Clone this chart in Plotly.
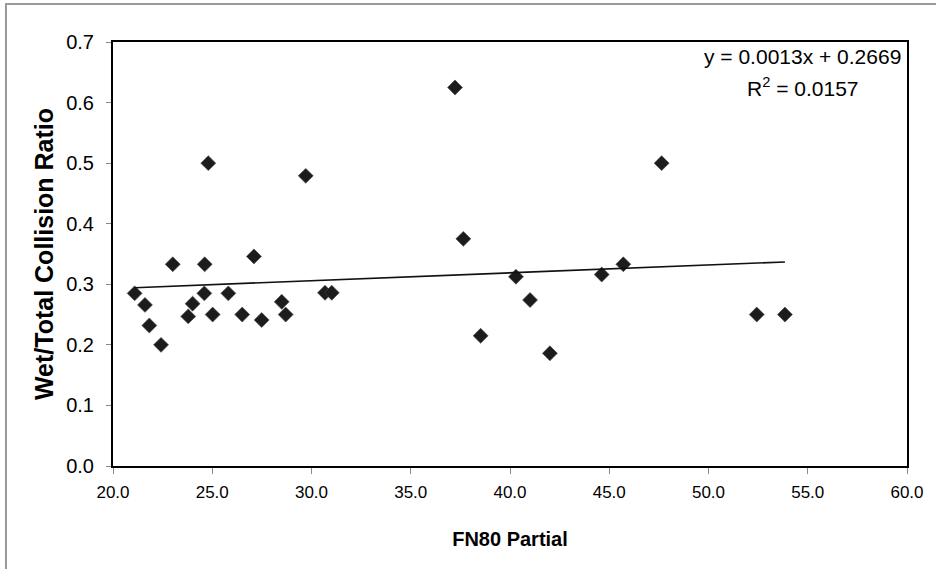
import plotly.graph_objects as go

# Data
fn80_partial = [21.09, 21.61, 21.83, 22.42, 23.01, 23.79, 24.01, 24.60, 24.62, 24.80,
                25.02, 25.81, 26.51, 27.10, 27.49, 28.50, 28.70, 29.71, 30.68, 31.02,
                37.23, 37.65, 38.52, 40.30, 41.01, 42.01, 44.62, 45.71, 47.64, 52.43, 53.85]
wet_total_ratio = [0.285, 0.266, 0.232, 0.200, 0.333, 0.247, 0.268, 0.285, 0.333, 0.500,
                   0.250, 0.285, 0.250, 0.346, 0.241, 0.271, 0.250, 0.479, 0.286, 0.286,
                   0.625, 0.375, 0.215, 0.3125, 0.274, 0.186, 0.316, 0.333, 0.500, 0.250, 0.250]

# Linear trendline from the chart's equation
slope = 0.0013
intercept = 0.2669
r_squared = 0.0157

x_ticks = [20, 25, 30, 35, 40, 45, 50, 55, 60]
y_ticks = [0.0, 0.1, 0.2, 0.3, 0.4, 0.5, 0.6, 0.7]

trend_x = [min(fn80_partial), max(fn80_partial)]
trend_y = [slope * v + intercept for v in trend_x]

FONT = "Liberation Sans, Arial, sans-serif"

fig = go.Figure()
fig.add_trace(go.Scatter(
    x=fn80_partial, y=wet_total_ratio, mode="markers",
    marker=dict(symbol="diamond", size=11.5, color="#1c1c1c",
                line=dict(width=0.6, color="#444")),
    showlegend=False, hoverinfo="x+y"))
fig.add_trace(go.Scatter(
    x=trend_x, y=trend_y, mode="lines",
    line=dict(color="#111", width=1.6),
    showlegend=False, hoverinfo="skip"))

# trendline equation and R²
fig.add_annotation(
    x=1.0, y=1.0, xref="paper", yref="paper", xanchor="right", yanchor="top",
    xshift=-4, yshift=-1, showarrow=False,
    text=f"y = {slope:.4f}x + {intercept:.4f}",
    font=dict(family=FONT, size=21, color="black"))
fig.add_annotation(
    x=0.869, y=0.893, xref="paper", yref="paper", xanchor="center", yanchor="middle",
    showarrow=False,
    text=f"R<sup>2</sup> = {r_squared:.4f}",
    font=dict(family=FONT, size=21, color="black"))

# outer chart-area border (top and left visible in reference)
fig.add_shape(type="rect", xref="paper", yref="paper",
              x0=-0.1348, x1=1.2, y0=-0.4, y1=1.0896,
              line=dict(color="#9a9a9a", width=2), layer="below")

fig.update_layout(
    width=936, height=569,
    margin=dict(l=113, r=29, t=42, b=103),
    paper_bgcolor="white", plot_bgcolor="white",
    font=dict(family=FONT, size=16, color="black"),
)
fig.update_xaxes(
    range=[20, 60], tickvals=x_ticks, ticktext=[f"{v:.1f}" for v in x_ticks],
    showgrid=False, zeroline=False,
    showline=True, linewidth=2, linecolor="black", mirror=True,
    ticks="outside", ticklen=6, tickwidth=1, tickcolor="#888",
    ticklabelstandoff=4,
    tickfont=dict(family=FONT, size=17),
    title=dict(text="<b>FN80 Partial</b>", font=dict(family=FONT, size=20), standoff=31))
fig.update_yaxes(
    range=[0, 0.7], tickvals=y_ticks, ticktext=[f"{v:.1f}" for v in y_ticks],
    showgrid=False, zeroline=False,
    showline=True, linewidth=2, linecolor="black", mirror=True,
    ticks="outside", ticklen=5, tickwidth=1, tickcolor="#888",
    ticklabelstandoff=8,
    tickfont=dict(family=FONT, size=20),
    title=dict(text="<b>Wet/Total Collision Ratio</b>", font=dict(family=FONT, size=25), standoff=5))

fig.write_html("out.html", config={"displayModeBar": False},
               post_script="document.body.style.margin='0';document.body.style.padding='0';")
